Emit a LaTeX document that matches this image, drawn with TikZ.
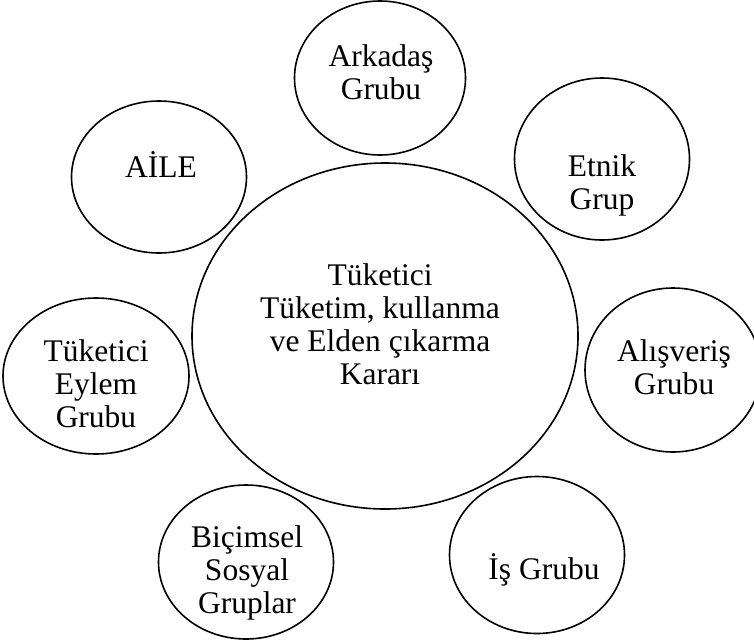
\documentclass[tikz,border=0pt]{standalone}
\usepackage{fontspec}
\setmainfont{Liberation Serif}
\usetikzlibrary{shapes.geometric}
\begin{document}
\begin{tikzpicture}[x=1pt,y=-1pt,
  grp/.style={draw, ellipse, line width=1.6pt, inner sep=0pt},
  lbl/.style={anchor=base, align=center, inner sep=0pt,
              font=\fontsize{31.5}{33}\selectfont}]
\useasboundingbox (0,0) rectangle (754,643);

% outlines of the groups
\node[grp, minimum width=386, minimum height=346] (karar)     at (385,336) {};
\node[grp, minimum width=171, minimum height=154] (arkadas)   at (380,78)  {};
\node[grp, minimum width=175, minimum height=152] (aile)      at (159,177) {};
\node[grp, minimum width=175, minimum height=162] (etnik)     at (602,159) {};
\node[grp, minimum width=176, minimum height=164] (alisveris) at (673,370) {};
\node[grp, minimum width=175, minimum height=157] (is)        at (537,555) {};
\node[grp, minimum width=175, minimum height=154] (bicimsel)  at (246,562) {};
\node[grp, minimum width=186, minimum height=156] (eylem)     at (96,376)  {};

% labels, placed on the baseline of their last line
\node[lbl] (karar-t)     at (380,384) {Tüketici\\Tüketim, kullanma\\ve Elden çıkarma\\Kararı};
\node[lbl] (arkadas-t)   at (381,99)  {Arkadaş\\Grubu};
\node[lbl] (aile-t)      at (161,177) {AİLE};
\node[lbl] (etnik-t)     at (602,209) {Etnik\\Grup};
\node[lbl] (alisveris-t) at (674,394) {Alışveriş\\Grubu};
\node[lbl] (is-t)        at (544,579) {İş Grubu};
\node[lbl] (bicimsel-t)  at (247,613) {Biçimsel\\Sosyal\\Gruplar};
\node[lbl] (eylem-t)     at (96,427)  {Tüketici\\Eylem\\Grubu};
\end{tikzpicture}
\end{document}
